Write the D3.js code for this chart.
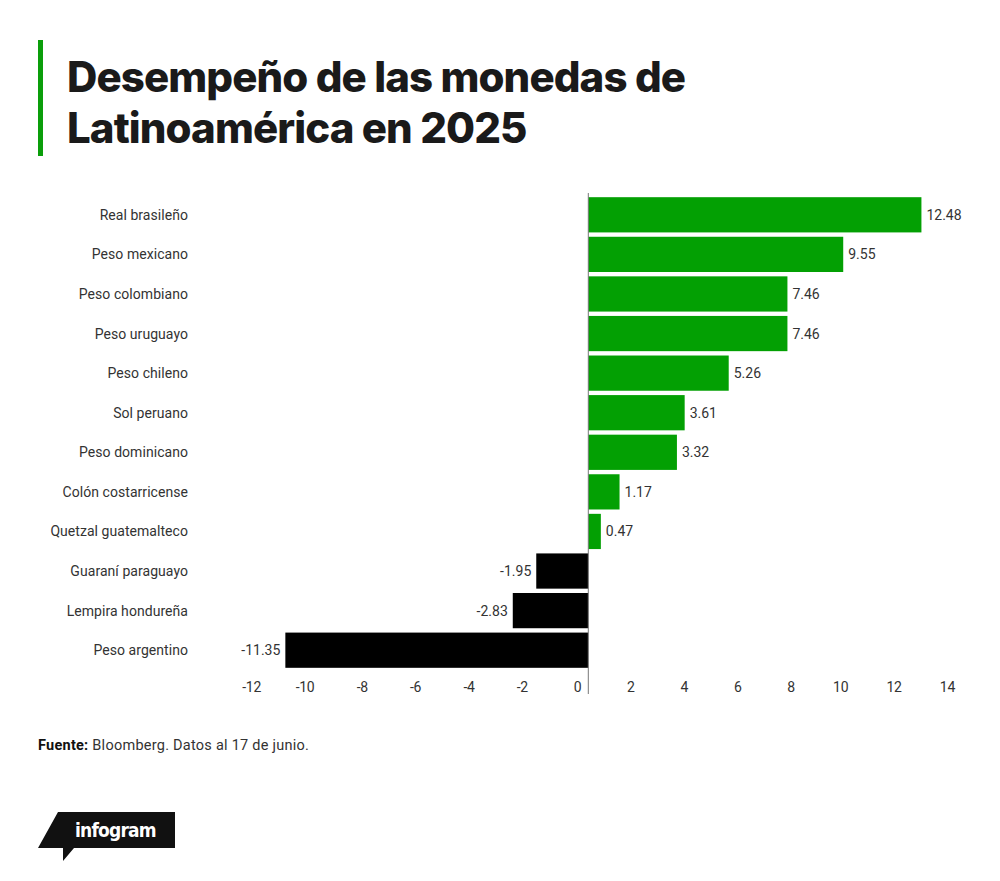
<!DOCTYPE html>
<html>
<head>
<meta charset="utf-8">
<script src="https://cdn.jsdelivr.net/npm/d3@7"></script>
<style>
  body { margin: 0; background: #fff; }
</style>
</head>
<body>
<div id="chart"></div>
<script>
// datos
const monedas = ["Real brasileño", "Peso mexicano", "Peso colombiano", "Peso uruguayo", "Peso chileno", "Sol peruano",
  "Peso dominicano", "Colón costarricense", "Quetzal guatemalteco", "Guaraní paraguayo", "Lempira hondureña", "Peso argentino"];
const valores = [12.48, 9.55, 7.46, 7.46, 5.26, 3.61, 3.32, 1.17, 0.47, -1.95, -2.83, -11.35];
const etiquetas = ["12.48", "9.55", "7.46", "7.46", "5.26", "3.61", "3.32", "1.17", "0.47", "-1.95", "-2.83", "-11.35"];
const ticks = [-12, -10, -8, -6, -4, -2, 0, 2, 4, 6, 8, 10, 12, 14];

const width = 1000, height = 881;
const font = "Roboto, 'Liberation Sans', sans-serif";
const svg = d3.select("#chart").append("svg").attr("width", width).attr("height", height);

// titulo
svg.append("rect").attr("x", 38).attr("y", 40).attr("width", 5).attr("height", 116).attr("fill", "#0a9e0a");
const title = svg.append("text").attr("font-family", "Inter, Roboto, sans-serif").attr("font-weight", 800)
  .attr("font-size", 42).attr("fill", "#1a1a1a").attr("letter-spacing", -0.9);
title.append("tspan").attr("x", 67).attr("y", 92).text("Desempeño de las monedas de");
title.append("tspan").attr("x", 67).attr("y", 143).text("Latinoamérica en 2025");

// escalas
const x = d3.scaleLinear().domain([-12, 14]).range([268, 962]);
const y = d3.scaleBand().domain(monedas).range([196, 669]).paddingInner(0.11).paddingOuter(0.03);

// barras
svg.append("g").selectAll("rect").data(valores).enter().append("rect")
  .attr("x", (d) => x(Math.min(0, d)))
  .attr("y", (d, i) => y(monedas[i]))
  .attr("width", (d) => Math.abs(x(d) - x(0)))
  .attr("height", y.bandwidth())
  .attr("fill", (d) => d >= 0 ? "#03a003" : "#000");

// eje cero
svg.append("line").attr("x1", x(0)).attr("x2", x(0)).attr("y1", 193).attr("y2", 694)
  .attr("stroke", "#777").attr("stroke-width", 1);

// nombres
svg.append("g").selectAll("text").data(monedas).enter().append("text")
  .attr("x", 188).attr("y", (d) => y(d) + y.bandwidth() / 2 + 5)
  .attr("text-anchor", "end").attr("font-family", font).attr("font-size", 14)
  .attr("letter-spacing", 0.05).attr("fill", "#333").text((d) => d);

// valores
svg.append("g").selectAll("text").data(valores).enter().append("text")
  .attr("x", (d) => d >= 0 ? x(d) + 5 : x(d) - 5)
  .attr("y", (d, i) => y(monedas[i]) + y.bandwidth() / 2 + 5)
  .attr("text-anchor", (d) => d >= 0 ? "start" : "end")
  .attr("font-family", font).attr("font-size", 14).attr("letter-spacing", 0).attr("fill", "#333")
  .text((d, i) => etiquetas[i]);

// eje x
svg.append("g").selectAll("text").data(ticks).enter().append("text")
  .attr("x", (d) => x(d) - 7).attr("y", 692)
  .attr("text-anchor", "end").attr("font-family", font).attr("font-size", 14)
  .attr("letter-spacing", -0.3).attr("fill", "#333").text((d) => d);

// fuente
const src = svg.append("text").attr("x", 38).attr("y", 750).attr("font-family", font)
  .attr("font-size", 14.5).attr("letter-spacing", 0.25).attr("fill", "#333");
src.append("tspan").attr("font-weight", 700).attr("fill", "#111").text("Fuente:");
src.append("tspan").text(" Bloomberg. Datos al 17 de junio.");

// logo infogram
svg.append("path").attr("d", "M 58 812 L 175 812 L 175 848 L 74 848 L 63 861 L 63 848 L 38 848 Z").attr("fill", "#111");
svg.append("text").attr("x", 75).attr("y", 837).attr("font-family", "'DejaVu Sans Condensed', 'Liberation Sans Narrow', sans-serif")
  .attr("font-weight", 700).attr("font-size", 19).attr("letter-spacing", -0.8).attr("fill", "#fff").text("infogram");
</script>
</body>
</html>
